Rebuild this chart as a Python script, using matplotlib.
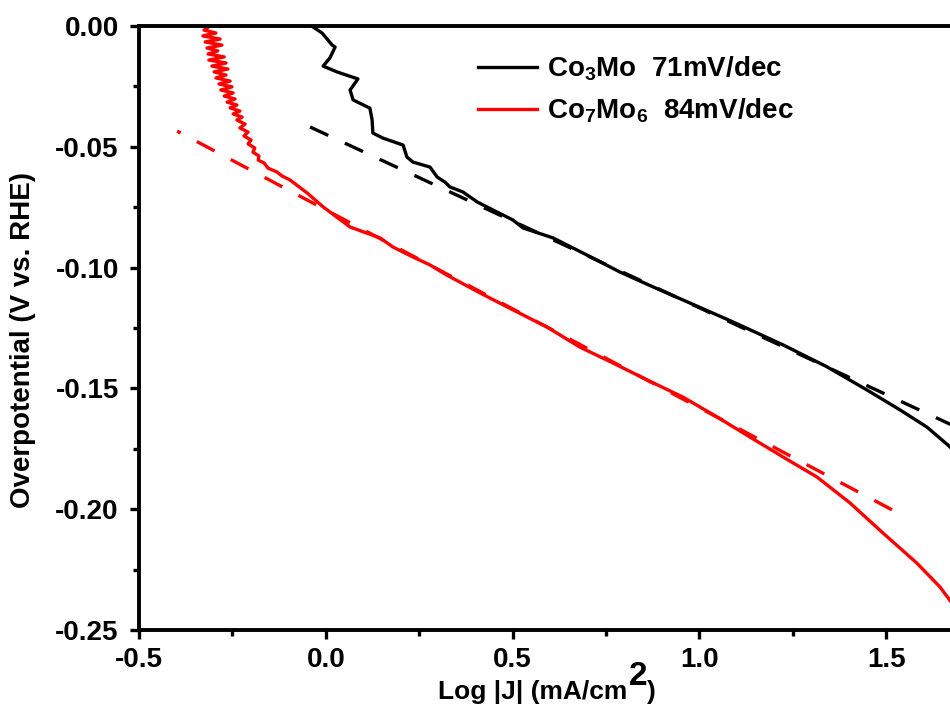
import matplotlib
matplotlib.use("Agg")
import matplotlib.pyplot as plt
from matplotlib.ticker import MultipleLocator, FormatStrFormatter

# Co3Mo polarisation curve (Log|J|, overpotential)
co3mo_x = [-0.034, -0.010, 0.017, 0.025, 0.011, -0.007, 0.030, 0.070, 0.086, 0.065,
           0.073, 0.118, 0.124, 0.126, 0.153, 0.207, 0.217, 0.233, 0.279, 0.298,
           0.319, 0.332, 0.367, 0.405, 0.448, 0.501, 0.528, 0.608, 0.699, 0.787,
           0.876, 0.956, 1.090, 1.224, 1.342, 1.449, 1.537, 1.609, 1.665, 1.690]
co3mo_y = [-0.0004, -0.0029, -0.0079, -0.0087, -0.0132, -0.0166, -0.0190, -0.0211, -0.0219, -0.0265,
           -0.0306, -0.0340, -0.0389, -0.0443, -0.0464, -0.0493, -0.0542, -0.0563, -0.0584, -0.0625,
           -0.0646, -0.0666, -0.0687, -0.0728, -0.0762, -0.0803, -0.0836, -0.0877, -0.0948, -0.1018,
           -0.1080, -0.1134, -0.1225, -0.1320, -0.1411, -0.1507, -0.1589, -0.1660, -0.1734, -0.1770]

# Co7Mo6 polarisation curve
co7mo6_x = [-0.310, -0.326, -0.294, -0.329, -0.283, -0.323, -0.278, -0.318, -0.289, -0.315,
            -0.272, -0.313, -0.267, -0.305, -0.262, -0.299, -0.267, -0.294, -0.256, -0.286,
            -0.251, -0.281, -0.248, -0.272, -0.243, -0.264, -0.238, -0.256, -0.230, -0.248,
            -0.224, -0.238, -0.216, -0.230, -0.208, -0.219, -0.200, -0.208, -0.190, -0.195,
            -0.179, -0.181, -0.165, -0.155, -0.131, -0.117, -0.096, -0.050, -0.007, 0.065,
            0.145, 0.180, 0.233, 0.279, 0.324, 0.413, 0.501, 0.592, 0.680, 0.769,
            0.860, 0.956, 1.047, 1.135, 1.224, 1.315, 1.403, 1.491, 1.582, 1.644, 1.684]
co7mo6_y = [0.0, -0.0017, -0.0029, -0.0041, -0.0054, -0.0066, -0.0079, -0.0091, -0.0103, -0.0116,
            -0.0128, -0.0141, -0.0153, -0.0166, -0.0178, -0.0190, -0.0203, -0.0215, -0.0228, -0.0240,
            -0.0252, -0.0265, -0.0277, -0.0290, -0.0302, -0.0315, -0.0327, -0.0339, -0.0352, -0.0364,
            -0.0377, -0.0389, -0.0406, -0.0422, -0.0439, -0.0455, -0.0472, -0.0488, -0.0505, -0.0522,
            -0.0538, -0.0555, -0.0567, -0.0588, -0.0604, -0.0621, -0.0637, -0.0691, -0.0749, -0.0832,
            -0.0877, -0.0915, -0.0956, -0.0989, -0.1031, -0.1105, -0.1175, -0.1246, -0.1329, -0.1395,
            -0.1465, -0.1536, -0.1618, -0.1701, -0.1784, -0.1867, -0.1974, -0.2098, -0.2223, -0.2322, -0.2405]

# Tafel fit lines (end points)
fit_co3mo_x = [-0.042, 1.700]
fit_co3mo_y = [-0.0418, -0.1669]
fit_co7mo6_x = [-0.398, 1.532]
fit_co7mo6_y = [-0.0435, -0.2016]

labels = [r"Co$_{3}$Mo  71mV/dec", r"Co$_{7}$Mo$_{6}$  84mV/dec"]

plt.rcParams["font.family"] = "Liberation Sans"
plt.rcParams["font.weight"] = "bold"
plt.rcParams["axes.unicode_minus"] = False
plt.rcParams["mathtext.fontset"] = "custom"
plt.rcParams["mathtext.rm"] = "Liberation Sans:bold"
plt.rcParams["mathtext.bf"] = "Liberation Sans:bold"
plt.rcParams["mathtext.default"] = "bf"

fig = plt.figure(figsize=(9.5, 7.04), dpi=100)
ax = fig.add_axes([139 / 950, 1 - 630 / 704, 1 - 139 / 950, (630 - 26) / 704])

ax.plot(co3mo_x, co3mo_y, color="black", lw=2.4, label=labels[0])
ax.plot(co7mo6_x, co7mo6_y, color="red", lw=2.4, label=labels[1])
ax.plot(fit_co3mo_x, fit_co3mo_y, color="black", lw=2.4, ls=(0, (6, 5.5)))
ax.plot(fit_co7mo6_x, fit_co7mo6_y, color="red", lw=2.4, ls=(4.8, (6, 5.5)))

ax.set_xlim(-0.5, 1.6708)
ax.set_ylim(-0.25, 0.0)
ax.xaxis.set_major_locator(MultipleLocator(0.5))
ax.xaxis.set_minor_locator(MultipleLocator(0.25))
ax.yaxis.set_major_locator(MultipleLocator(0.05))
ax.yaxis.set_minor_locator(MultipleLocator(0.025))
ax.xaxis.set_major_formatter(FormatStrFormatter("%.1f"))
ax.yaxis.set_major_formatter(FormatStrFormatter("%.2f"))
ax.tick_params(which="major", direction="out", length=6.5, width=2.4, labelsize=20, pad=6)
ax.tick_params(which="minor", direction="out", length=4, width=2.4)
ax.tick_params(axis="y", which="major", pad=8)
for s in ["left", "bottom", "top"]:
    ax.spines[s].set_linewidth(2.8)
ax.spines["right"].set_visible(False)

fig.text(23 / 950, 1 - 340 / 704, "Overpotential (V vs. RHE)", fontsize=20,
         fontweight="bold", rotation=90, ha="center", va="center")

# x label with the oversized superscript
fig.text(627 / 950, 1 - 699 / 704, "Log |J| (mA/cm", fontsize=19, fontweight="bold",
         ha="right", va="baseline")
fig.text(629 / 950, 1 - 685 / 704, "2", fontsize=24, ha="left", va="baseline")
fig.text(647 / 950, 1 - 699 / 704, ")", fontsize=19, fontweight="bold",
         ha="left", va="baseline")

ax.legend(loc="upper left", bbox_to_anchor=(0.4185, 0.952), frameon=False, fontsize=20,
          handlelength=2.1, handletextpad=0.36, labelspacing=0.46, borderaxespad=0,
          borderpad=0)

fig.savefig("out.png", dpi=100)
